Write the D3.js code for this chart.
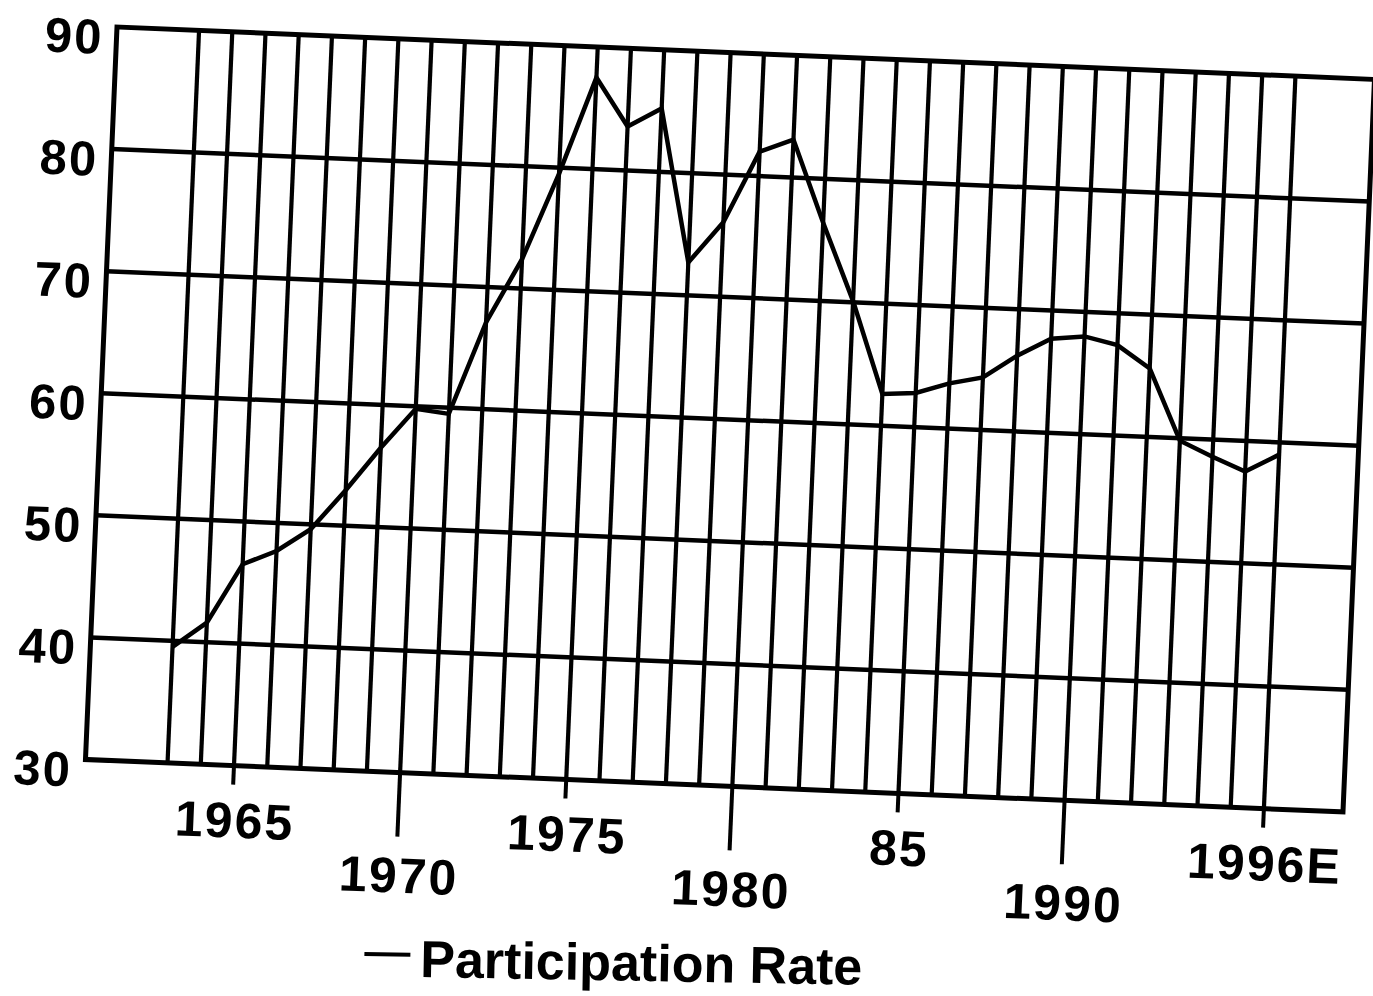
<!DOCTYPE html>
<head>
	<script src="https://cdnjs.cloudflare.com/ajax/libs/d3/7.8.5/d3.min.js"></script>
	<style>
		body { margin: 0; background: #fff; }
		text { font-family: "Liberation Sans", Arial, sans-serif; font-weight: bold; fill: #000; }
	</style>
</head>
<body>
<svg></svg>
<script>
	var years = [1963, 1964, 1965, 1966, 1967, 1968, 1969, 1970, 1971, 1972, 1973, 1974,
		1975, 1976, 1977, 1978, 1979, 1980, 1981, 1982, 1983, 1984, 1985, 1986,
		1987, 1988, 1989, 1990, 1991, 1992, 1993, 1994, 1995, 1996];
	var rate = [39.5, 41.6, 46.5, 47.7, 49.6, 52.9, 56.5, 59.8, 59.5, 67.1, 72.4, 79.5,
		87.5, 83.6, 85.2, 72.7, 76.1, 82.0, 83.1, 76.4, 70.1, 62.6, 62.8, 63.7,
		64.3, 66.2, 67.7, 68.0, 67.4, 65.6, 59.8, 58.6, 57.5, 59.0];
	var yTicks = [30, 40, 50, 60, 70, 80, 90];
	var xLabelYears = [1965, 1970, 1975, 1980, 1985, 1990, 1996];
	var xLabelText = ["1965", "1970", "1975", "1980", "85", "1990", "1996E"];
	var legendLabel = "Participation Rate";

	var width = 1373;
	var height = 996;
	var plotW = 1258;
	var plotH = 733;

	var svg = d3.select("svg")
		.attr("width", width)
		.attr("height", height);

	svg.append("rect")
		.attr("width", width)
		.attr("height", height)
		.attr("fill", "#fff");

	// the scanned page sits a little crooked
	var g = svg.append("g")
		.attr("transform", "matrix(0.9996,0.0417,-0.043,0.9993,117,27)");

	var xScale = d3.scaleLinear()
		.domain([1960.53, 1998.38])
		.range([0, plotW]);

	var yScale = d3.scaleLinear()
		.domain([30, 90])
		.range([plotH, 0]);

	// horizontal grid
	g.selectAll(".hgrid")
		.data(yTicks.slice(1, -1))
		.enter()
		.append("line")
		.attr("x1", 0)
		.attr("x2", plotW)
		.attr("y1", function(d) { return yScale(d); })
		.attr("y2", function(d) { return yScale(d); })
		.attr("stroke", "#000")
		.attr("stroke-width", 4.5);

	// one vertical line per year
	g.selectAll(".vgrid")
		.data(years)
		.enter()
		.append("line")
		.attr("x1", function(d) { return xScale(d); })
		.attr("x2", function(d) { return xScale(d); })
		.attr("y1", 0)
		.attr("y2", plotH)
		.attr("stroke", "#000")
		.attr("stroke-width", 4.2);

	g.append("rect")
		.attr("width", plotW)
		.attr("height", plotH)
		.attr("fill", "none")
		.attr("stroke", "#000")
		.attr("stroke-width", 5);

	// y labels
	var yAxis = d3.axisLeft(yScale)
		.tickValues(yTicks)
		.tickSize(0)
		.tickPadding(13);

	var ya = g.append("g").call(yAxis);
	ya.select(".domain").remove();
	ya.selectAll("text")
		.attr("dy", "0.55em")
		.style("font-size", "49px")
		.style("letter-spacing", "2px")
		.style("font-family", "'Liberation Sans', Arial, sans-serif")
		.style("font-weight", "bold");

	// staggered year labels
	g.selectAll(".xtick")
		.data(xLabelYears)
		.enter()
		.append("line")
		.attr("x1", function(d) { return xScale(d); })
		.attr("x2", function(d) { return xScale(d); })
		.attr("y1", plotH)
		.attr("y2", function(d, i) { return plotH + (i % 2 ? 64 : 19); })
		.attr("stroke", "#000")
		.attr("stroke-width", 4);

	g.selectAll(".xlabel")
		.data(xLabelYears)
		.enter()
		.append("text")
		.attr("x", function(d) { return xScale(d) + 3; })
		.attr("y", function(d, i) { return plotH + (i % 2 ? 120 : 72); })
		.attr("text-anchor", "middle")
		.style("font-size", "50px")
		.style("letter-spacing", "2px")
		.text(function(d, i) { return xLabelText[i]; });

	var line = d3.line()
		.x(function(d, i) { return xScale(years[i]); })
		.y(function(d) { return yScale(d); });

	g.append("path")
		.datum(rate)
		.attr("d", line)
		.attr("fill", "none")
		.attr("stroke", "#000")
		.attr("stroke-width", 4.5)
		.attr("stroke-linejoin", "miter");

	// legend
	var legend = svg.append("g")
		.attr("transform", "translate(420,977) rotate(1.0)");

	legend.append("line")
		.attr("x1", -56)
		.attr("x2", -10)
		.attr("y1", -22)
		.attr("y2", -22)
		.attr("stroke", "#000")
		.attr("stroke-width", 4);

	legend.append("text")
		.attr("x", 0)
		.attr("y", 0)
		.style("font-size", "52px")
		.text(legendLabel);
</script>
</body>
</html>
